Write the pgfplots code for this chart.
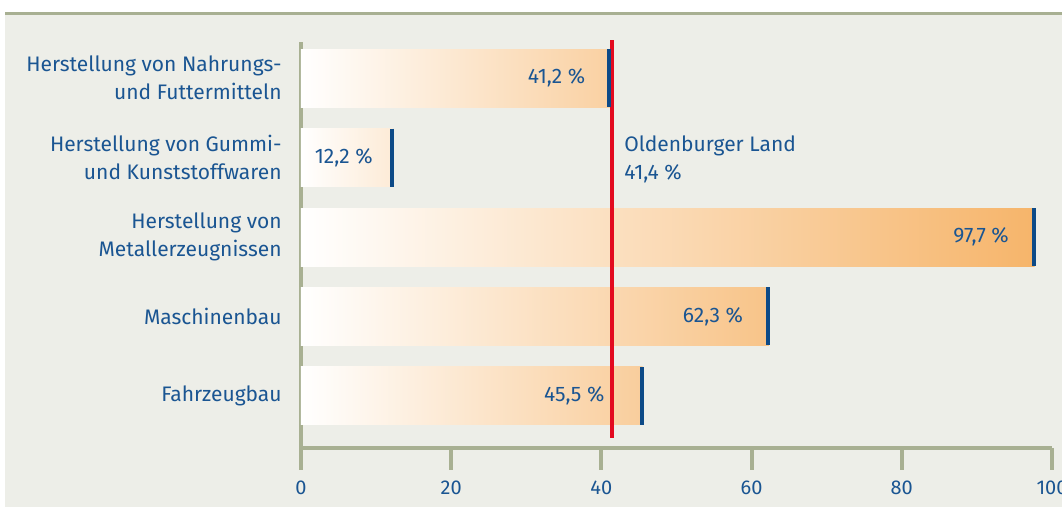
\documentclass[border=0pt]{standalone}
\usepackage{fontspec}
\setmainfont{Fira Sans}
\usepackage{pgfplots}
\pgfplotsset{compat=1.18}
\definecolor{bgc}{HTML}{EDEEE8}
\definecolor{olive}{HTML}{A8B092}
\definecolor{txtblue}{HTML}{1A5592}
\definecolor{capblue}{HTML}{0D4A87}
\definecolor{redline}{HTML}{E30A1F}
\definecolor{barorange}{HTML}{F6B469}
\begin{document}
\fontsize{10.5}{14}\selectfont
\begin{tikzpicture}
\path[use as bounding box] (0,0) rectangle (531pt,253.5pt);
\fill[bgc] (2.5pt,0) rectangle (531pt,246.3pt);
\fill[olive] (2.5pt,246pt) rectangle (531pt,247.6pt);
\begin{axis}[
  at={(150.5pt,29.5pt)}, anchor=south west,
  scale only axis, width=375.5pt, height=203pt,
  xmin=0, xmax=100, ymin=0.346, ymax=5.453,
  clip=false,
  axis x line=bottom, axis y line=left,
  axis line style={-, olive, line width=2pt},
  xtick={0,20,40,60,80,100},
  tick align=outside,
  major tick length=11pt,
  xtick style={olive, line width=2pt},
  ytick={1,2,3,4,5},
  ytick style={draw=none},
  yticklabels={Fahrzeugbau, Maschinenbau, {Herstellung von\\Metallerzeugnissen}, {Herstellung von Gummi-\\und Kunststoffwaren}, {Herstellung von Nahrungs-\\und Futtermitteln}},
  yticklabel style={align=right, text=txtblue, font=\fontsize{10.5}{14}\selectfont, xshift=5pt},
  xticklabel style={text=txtblue, font=\fontsize{10}{12}\selectfont, yshift=-2pt},
  /pgf/number format/assume math mode=true,
]
% bars
\addplot[xbar, bar width=29pt, bar shift=0pt, draw=none, left color=white, middle color=barorange!42!white, right color=barorange!62!white] coordinates {(41.2,5)};
\addplot[xbar, bar width=29pt, bar shift=0pt, draw=none, left color=white, middle color=barorange!11!white, right color=barorange!27!white] coordinates {(12.2,4)};
\addplot[xbar, bar width=29pt, bar shift=0pt, draw=none, left color=white, middle color=barorange!72!white, right color=barorange!99!white] coordinates {(97.7,3)};
\addplot[xbar, bar width=29pt, bar shift=0pt, draw=none, left color=white, middle color=barorange!57!white, right color=barorange!79!white] coordinates {(62.3,2)};
\addplot[xbar, bar width=29pt, bar shift=0pt, draw=none, left color=white, middle color=barorange!46!white, right color=barorange!66!white] coordinates {(45.5,1)};
% caps
\addplot[only marks, mark=|, mark size=14.5pt, mark options={capblue, line width=2pt}] coordinates {(41.07,5) (12.07,4) (97.57,3) (62.17,2) (45.37,1)};
% reference line
\addplot[redline, line width=1.8pt] coordinates {(41.4,0.472) (41.4,5.478)};
% value labels
\addplot[only marks, mark=*, mark size=0pt, mark options={draw=none, fill=none},
  point meta=explicit symbolic, nodes near coords,
  every node near coord/.append style={anchor=east, text=txtblue, font=\fontsize{10.5}{14}\selectfont, inner sep=0pt}]
  coordinates {(37.9,5) [41,2 \%] (9.6,4) [12,2 \%] (94.3,3) [97,7 \%] (58.9,2) [62,3 \%] (40.45,1) [45,5 \%]};
\node[anchor=west, align=left, text=txtblue, font=\fontsize{10.5}{14}\selectfont, inner sep=0pt] at (axis cs:43.0,3.98) {Oldenburger Land\\41,4 \%};
\end{axis}
\end{tikzpicture}
\end{document}
